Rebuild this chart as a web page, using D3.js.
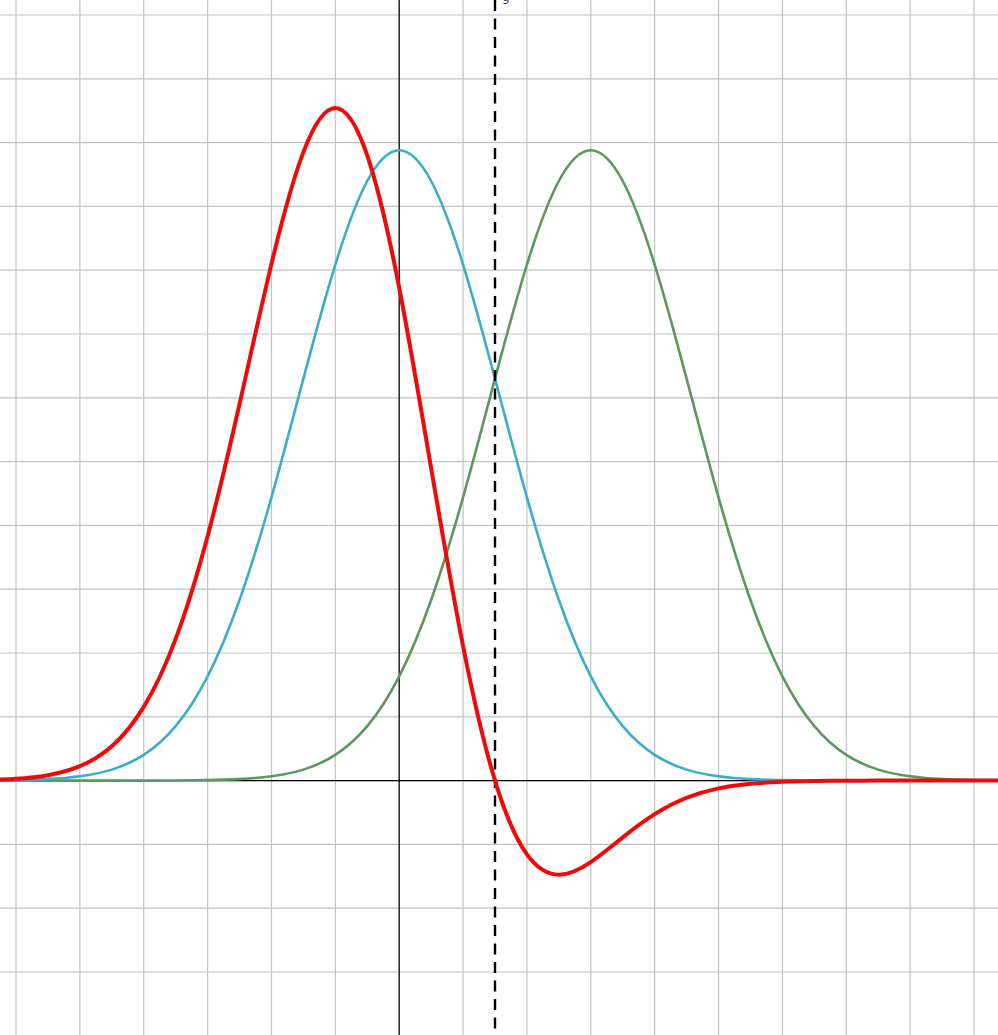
<!DOCTYPE html>
<html>
<head>
<meta charset="utf-8">
<script src="https://cdn.jsdelivr.net/npm/d3@7"></script>
<style>
  html, body { margin: 0; padding: 0; background: #fff; overflow: hidden; }
  svg { display: block; }
</style>
</head>
<body>
<svg id="chart" width="998" height="1035"></svg>
<script>
// Sample positions (x) and series values
const xValues = [-6.5,-6,-5.5,-5,-4.5,-4,-3.5,-3,-2.5,-2,-1.5,-1,-0.5,0,0.5,1,1.5,2,2.5,3,3.5,4,4.5,5,5.5,6,6.5,7,7.5,8,8.5,9,9.5];
const blueValues = [0.002,0.007,0.023,0.067,0.172,0.403,0.853,1.633,2.831,4.439,6.300,8.089,9.398,9.88,9.398,8.089,6.300,4.439,2.831,1.633,0.853,0.403,0.172,0.067,0.023,0.007,0.002,0.0005,0.0001,0,0,0,0];
const greenValues = [0,0,0,0,0,0,0.002,0.007,0.023,0.067,0.172,0.403,0.853,1.633,2.831,4.439,6.300,8.089,9.398,9.88,9.398,8.089,6.300,4.439,2.831,1.633,0.853,0.403,0.172,0.067,0.023,0.007,0.002];
const redValues = [0.009,0.029,0.085,0.226,0.538,1.155,2.222,3.831,5.902,8.099,9.851,10.541,9.798,7.725,4.899,2.108,0,-1.157,-1.475,-1.277,-0.889,-0.525,-0.269,-0.122,-0.049,-0.017,-0.006,-0.002,0,0,0,0,0];
const xGridTicks = d3.range(-6, 10, 1);
const yGridTicks = d3.range(-4, 13, 1);
const markerX = 1.5;
const topLabel = "g";

const W = 998, H = 1035;
const svg = d3.select("#chart");

const x = d3.scaleLinear().domain([-6, 9]).range([16, 974]);
const y = d3.scaleLinear().domain([-3, 12]).range([972, 15]);

// grid
const grid = svg.append("g");
grid.selectAll("line.v").data(xGridTicks).join("line")
  .attr("x1", d => x(d)).attr("x2", d => x(d))
  .attr("y1", 0).attr("y2", H)
  .attr("stroke", "#c2c2c2").attr("stroke-width", 1.2);
grid.selectAll("line.h").data(yGridTicks).join("line")
  .attr("x1", 0).attr("x2", W)
  .attr("y1", d => y(d)).attr("y2", d => y(d))
  .attr("stroke", "#c2c2c2").attr("stroke-width", 1.2);

// axes
svg.append("line").attr("x1", 0).attr("x2", W).attr("y1", y(0)).attr("y2", y(0))
  .attr("stroke", "#000").attr("stroke-width", 1.2);
svg.append("line").attr("x1", x(0)).attr("x2", x(0)).attr("y1", 0).attr("y2", H)
  .attr("stroke", "#000").attr("stroke-width", 1.2);

const line = d3.line().x(d => x(d[0])).y(d => y(d[1])).curve(d3.curveNatural);
const pts = vals => xValues.map((v, i) => [v, vals[i]]);

svg.append("path").attr("d", line(pts(greenValues)))
  .attr("fill", "none").attr("stroke", "#5a985d").attr("stroke-width", 2.6);
svg.append("path").attr("d", line(pts(blueValues)))
  .attr("fill", "none").attr("stroke", "#3aaccc").attr("stroke-width", 2.6);

// dashed marker line
svg.append("line").attr("x1", x(markerX)).attr("x2", x(markerX)).attr("y1", 0).attr("y2", H)
  .attr("stroke", "#000").attr("stroke-width", 2.4).attr("stroke-dasharray", "11,7.5");

svg.append("path").attr("d", line(pts(redValues)))
  .attr("fill", "none").attr("stroke", "#ee0a0a").attr("stroke-width", 4);

svg.append("text").attr("x", x(markerX) + 7).attr("y", 1)
  .attr("font-family", "DejaVu Sans, sans-serif").attr("font-size", 12)
  .attr("fill", "#444").text(topLabel);
</script>
</body>
</html>
